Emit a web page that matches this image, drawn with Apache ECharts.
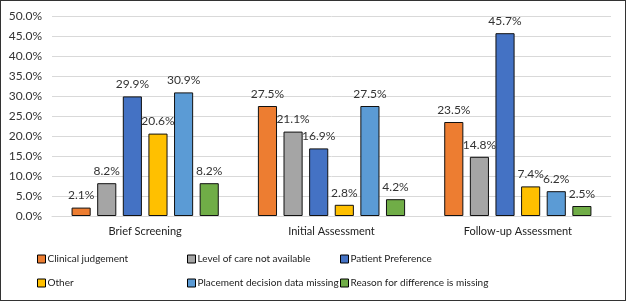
<!DOCTYPE html>
<html>
<head>
<meta charset="utf-8">
<script src="https://cdn.jsdelivr.net/npm/echarts@6/dist/echarts.min.js"></script>
<style>
html, body { margin: 0; padding: 0; background: #fff; }
#main { width: 624px; height: 299px; border: 1px solid #333; }
</style>
</head>
<body>
<div id="main"></div>
<script>
var categories = ['Brief Screening', 'Initial Assessment', 'Follow-up Assessment'];
var seriesNames = ['Clinical judgement', 'Level of care not available', 'Patient Preference',
	'Other', 'Placement decision data missing', 'Reason for difference is missing'];
var clinical = [2.1, 27.5, 23.5];
var levelOfCare = [8.2, 21.1, 14.8];
var patientPref = [29.9, 16.9, 45.7];
var other = [20.6, 2.8, 7.4];
var placementMissing = [30.9, 27.5, 6.2];
var reasonMissing = [8.2, 4.2, 2.5];
var yTicks = [0, 5, 10, 15, 20, 25, 30, 35, 40, 45, 50];

var colors = ['#ED7D31', '#A5A5A5', '#4472C4', '#FFC000', '#5B9BD5', '#70AD47'];
var values = [clinical, levelOfCare, patientPref, other, placementMissing, reasonMissing];
var font = 'Lato';

var myChart = echarts.init(document.getElementById('main'));

// legend: one component per item so columns line up
var legendPos = [[36, 253], [186, 253], [339, 253], [36, 277], [186, 277], [339, 277]];
var legends = [];
for (var i = 0; i < seriesNames.length; i++) {
	legends.push({
		data: [seriesNames[i]],
		left: legendPos[i][0],
		top: legendPos[i][1],
		icon: 'rect',
		itemWidth: 8,
		itemHeight: 8,
		itemGap: 3,
		padding: 0,
		itemStyle: { borderColor: '#000', borderWidth: 1 },
		textStyle: { fontFamily: font, fontSize: 10, color: '#222', padding: [0, 0, 0, -3] }
	});
}

var series = [];
for (var i = 0; i < seriesNames.length; i++) {
	series.push({
		name: seriesNames[i],
		type: 'bar',
		data: values[i],
		barGap: '34%',
		barCategoryGap: '21%',
		itemStyle: { color: colors[i], borderColor: '#111', borderWidth: 1 },
		label: {
			show: true,
			position: 'top',
			distance: 6,
			fontFamily: font,
			fontSize: 12,
			color: '#333',
			formatter: function(p) { return p.value.toFixed(1) + '%'; }
		}
	});
}

var option = {
	animation: false,
	color: colors,
	legend: legends,
	grid: { left: 51, right: 14, top: 15, bottom: 84 },
	xAxis: {
		type: 'category',
		data: categories,
		axisTick: { show: false },
		axisLine: { lineStyle: { color: '#D9D9D9' } },
		axisLabel: { fontFamily: font, fontSize: 11, color: '#222', margin: 10 }
	},
	yAxis: {
		type: 'value',
		min: yTicks[0],
		max: yTicks[yTicks.length - 1],
		interval: 5,
		axisLine: { show: false },
		axisTick: { show: false },
		splitLine: { lineStyle: { color: '#D9D9D9' } },
		axisLabel: {
			fontFamily: font, fontSize: 12, color: '#333', margin: 10,
			formatter: function(v) { return v.toFixed(1) + '%'; }
		}
	},
	series: series
};
myChart.setOption(option);
</script>
</body>
</html>
